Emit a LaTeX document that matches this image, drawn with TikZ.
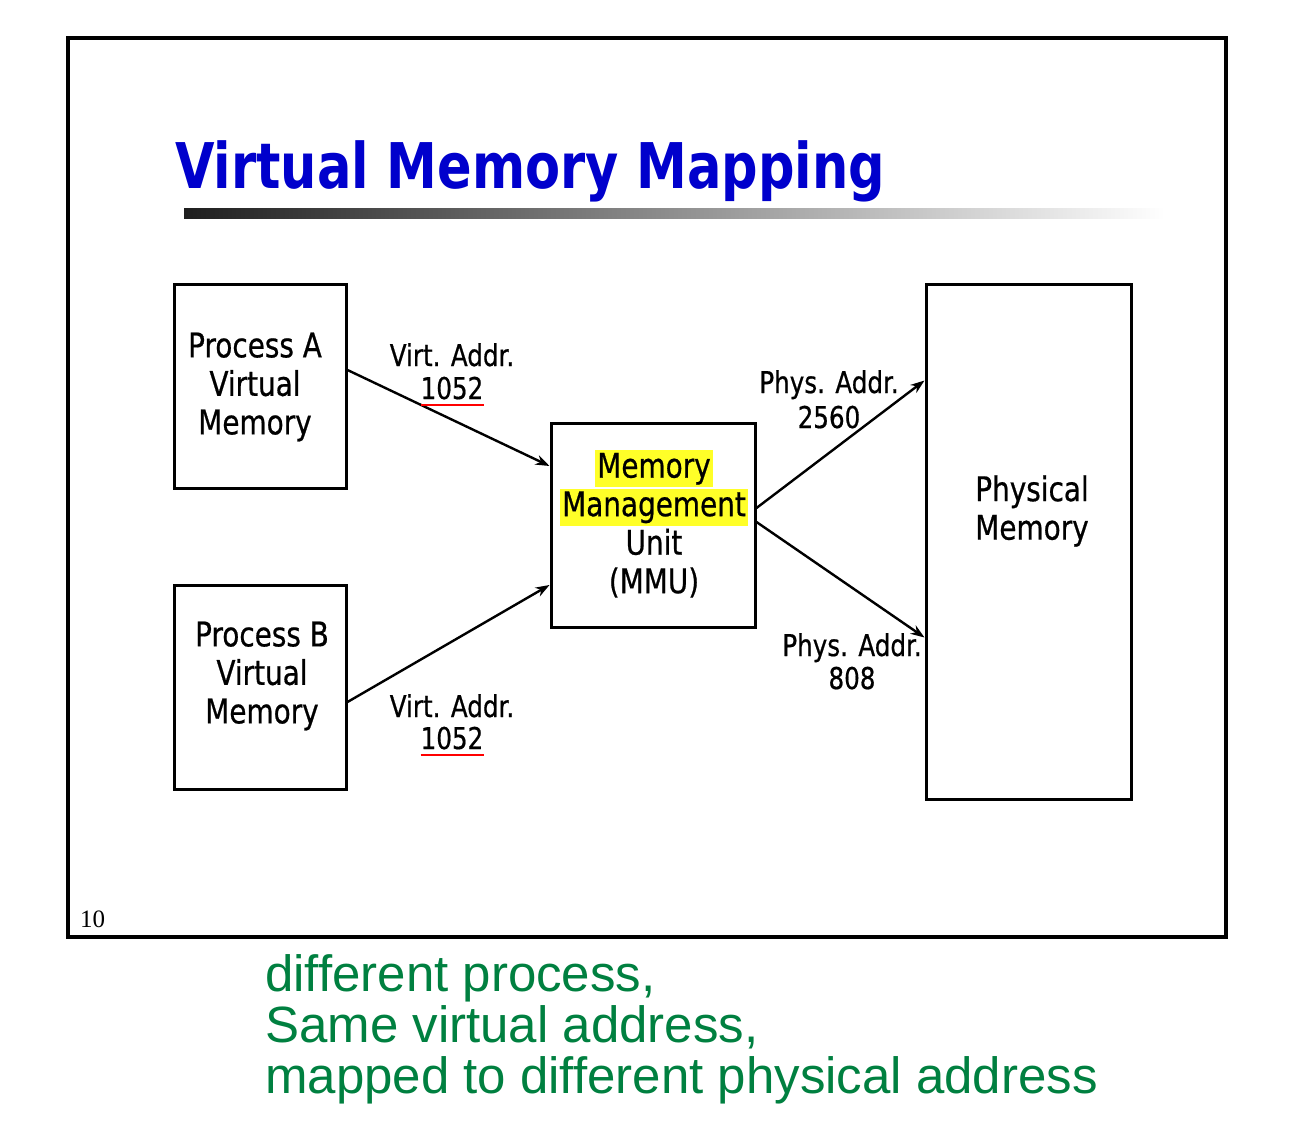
\documentclass[tikz,border=0pt]{standalone}
\usepackage{fontspec}
\usetikzlibrary{arrows.meta,calc}
\newfontfamily\titlefont[FakeStretch=0.81]{DejaVu Sans}
\newfontfamily\bodyfont[FakeStretch=0.82,FakeBold=0.6]{DejaVu Sans}
\newfontfamily\notefont{Liberation Sans}
\newfontfamily\numfont{Liberation Serif}
\definecolor{titleblue}{RGB}{0,0,204}
\definecolor{notegreen}{RGB}{0,128,64}
\definecolor{hlyellow}{RGB}{255,255,40}
\newcommand{\hl}[1]{{\setlength{\fboxsep}{2.5pt}\colorbox{hlyellow}{#1}}}
\begin{document}
\begin{tikzpicture}[x=1pt,y=-1pt,
  box/.style={draw, line width=3pt, fill=white, inner sep=0pt},
  boxtext/.style={align=center, inner sep=0pt, font=\bodyfont\fontsize{34}{38.5}\selectfont},
  addr/.style={anchor=base, inner sep=0pt, font=\bodyfont\fontsize{30}{30}\selectfont},
  conn/.style={line width=2.4pt, -{Stealth[length=14pt,width=10pt]}},
  uline/.style={red, line width=2.2pt}]
\useasboundingbox (0,0) rectangle (1312,1148);
\fill[white] (0,0) rectangle (1312,1148);

% slide frame
\draw[line width=4.5pt] (68,38) rectangle (1226,937);

% title and rule
\node[anchor=base west, inner sep=0pt, text=titleblue,
      font=\titlefont\bfseries\fontsize{63}{63}\selectfont] (title) at (175,188) {Virtual Memory Mapping};
\shade[left color=black!88, right color=white] (184,208) rectangle (1165,218);

% boxes
\node[box, minimum width=172pt, minimum height=204pt] (procA) at (260,386) {};
\node[box, minimum width=172pt, minimum height=204pt] (procB) at (260,687) {};
\node[box, minimum width=204pt, minimum height=204pt] (mmu) at (653,525) {};
\node[box, minimum width=205pt, minimum height=515pt] (phys) at (1028.5,541.5) {};

% box texts
\node[boxtext] (procAtxt) at (255,387) {Process A\\Virtual\\Memory};
\node[boxtext] (procBtxt) at (262,676) {Process B\\Virtual\\Memory};
\node[boxtext] (mmutxt) at (654,524) {\hl{Memory}\\\hl{Management}\\Unit\\(MMU)};
\node[boxtext] (phystxt) at (1032,511) {Physical\\Memory};

% connectors
\draw[conn] ([yshift=16pt]procA.east) -- ([yshift=59pt]mmu.west);
\draw[conn] ([yshift=-15pt]procB.east) -- ([yshift=-60pt]mmu.west);
\draw[conn] ([yshift=17pt]mmu.east) -- ([yshift=161pt]phys.west);
\draw[conn] ([yshift=3pt]mmu.east) -- ([yshift=-96pt]phys.west);

% address labels
\node[addr] (va1) at (452,366) {Virt. Addr.};
\node[addr] (vn1) at (452,399) {1052};
\draw[uline] ([yshift=-6pt]vn1.base west) -- ([yshift=-6pt]vn1.base east);
\node[addr] (va2) at (452,717) {Virt. Addr.};
\node[addr] (vn2) at (452,749) {1052};
\draw[uline] ([yshift=-6pt]vn2.base west) -- ([yshift=-6pt]vn2.base east);
\node[addr] (pa1) at (829,393) {Phys. Addr.};
\node[addr] (pn1) at (829,428) {2560};
\node[addr] (pa2) at (852,656) {Phys. Addr.};
\node[addr] (pn2) at (852,689) {808};

% page number
\node[anchor=base west, inner sep=0pt, font=\numfont\fontsize{25}{25}\selectfont] (pageno) at (80,927) {10};

% note below the slide
\node[anchor=north west, inner sep=0pt, align=left, text=notegreen,
      font=\notefont\fontsize{51}{51}\selectfont] (note) at (265,954)
  {different process,\\Same virtual address,\\mapped to different physical address};
\end{tikzpicture}
\end{document}
